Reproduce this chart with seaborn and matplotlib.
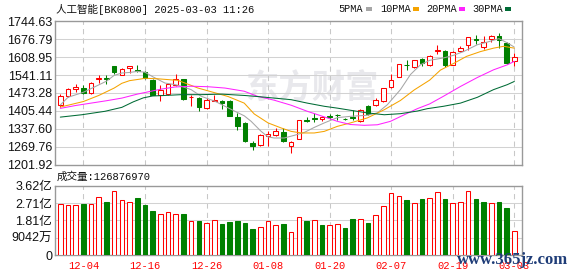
import matplotlib
matplotlib.use('Agg')
import matplotlib.pyplot as plt
from matplotlib.patches import Rectangle
import seaborn as sns
import pandas as pd
import numpy as np

sns.set_theme(style='white')
plt.rcParams['font.family'] = ['Liberation Sans', 'Noto Sans CJK SC', 'DejaVu Sans']

# ---------------- data ----------------
title_text = '人工智能[BK0800] 2025-03-03 11:26'
volume_title = '成交量:126876970'

dates = ['11-29', '12-02', '12-03', '12-04', '12-05', '12-06', '12-09', '12-10', '12-11', '12-12',
         '12-13', '12-16', '12-17', '12-18', '12-19', '12-20', '12-23', '12-24', '12-25', '12-26',
         '12-27', '12-30', '12-31', '01-02', '01-03', '01-06', '01-07', '01-08', '01-09', '01-10',
         '01-13', '01-14', '01-15', '01-16', '01-17', '01-20', '01-21', '01-22', '01-23', '01-24',
         '01-27', '02-05', '02-06', '02-07', '02-10', '02-11', '02-12', '02-13', '02-14', '02-17',
         '02-18', '02-19', '02-20', '02-21', '02-24', '02-25', '02-26', '02-27', '02-28', '03-03']

opens = [1426.5, 1460.6, 1489.6, 1492.1, 1472.0, 1525.0, 1530.0, 1574.1, 1542.6, 1568.0,
         1561.5, 1551.5, 1523.7, 1466.9, 1469.4, 1504.8, 1524.9, 1458.0, 1454.3, 1416.4,
         1444.2, 1441.7, 1441.7, 1382.4, 1359.7, 1284.0, 1275.1, 1309.0, 1313.0, 1325.6,
         1271.3, 1300.4, 1372.3, 1378.6, 1376.1, 1387.4, 1391.0, 1376.0, 1383.7, 1367.3,
         1424.0, 1427.8, 1444.2, 1497.2, 1535.0, 1580.5, 1570.4, 1601.9, 1580.5, 1633.5,
         1630.9, 1580.5, 1630.9, 1653.6, 1678.9, 1646.0, 1677.6, 1687.7, 1662.5, 1595.7]
highs = [1469.4, 1492.1, 1507.3, 1502.2, 1514.9, 1540.0, 1540.0, 1576.7, 1566.6, 1574.1,
         1580.5, 1555.2, 1526.2, 1504.8, 1511.1, 1545.0, 1527.5, 1466.9, 1456.8, 1454.3,
         1466.9, 1448.0, 1448.0, 1397.5, 1364.0, 1292.8, 1318.0, 1328.1, 1340.7, 1340.7,
         1292.8, 1372.3, 1382.4, 1397.5, 1384.9, 1395.0, 1393.0, 1380.0, 1408.9, 1411.0,
         1427.0, 1454.0, 1493.0, 1545.1, 1584.0, 1596.9, 1599.0, 1605.7, 1618.3, 1653.6,
         1634.7, 1631.0, 1649.8, 1685.2, 1691.5, 1687.7, 1691.5, 1700.3, 1666.3, 1624.6]
lows = [1418.9, 1458.1, 1477.0, 1469.4, 1469.4, 1511.0, 1508.5, 1546.4, 1541.4, 1548.9,
        1552.7, 1526.2, 1464.4, 1444.2, 1466.9, 1500.0, 1448.0, 1422.7, 1406.3, 1412.6,
        1441.7, 1413.8, 1384.9, 1334.4, 1286.0, 1256.2, 1273.0, 1271.3, 1311.7, 1287.8,
        1246.0, 1297.8, 1363.4, 1362.2, 1366.0, 1376.1, 1370.0, 1370.0, 1371.0, 1363.0,
        1391.0, 1424.0, 1441.0, 1494.0, 1533.0, 1562.0, 1568.0, 1574.0, 1574.2, 1620.8,
        1571.6, 1578.0, 1628.4, 1636.0, 1660.0, 1641.0, 1666.3, 1643.5, 1584.2, 1574.2]
closes = [1460.6, 1488.4, 1495.9, 1473.2, 1511.1, 1530.0, 1525.0, 1551.5, 1564.1, 1574.0,
          1555.2, 1530.0, 1466.9, 1485.8, 1507.3, 1527.5, 1451.8, 1460.0, 1420.2, 1448.0,
          1448.0, 1435.4, 1387.4, 1347.0, 1290.3, 1271.3, 1315.5, 1319.0, 1328.0, 1290.3,
          1286.5, 1369.8, 1368.5, 1374.8, 1381.1, 1383.7, 1389.0, 1373.6, 1377.4, 1408.9,
          1393.8, 1446.7, 1490.9, 1522.4, 1583.0, 1577.5, 1597.5, 1586.8, 1612.0, 1637.2,
          1580.5, 1628.4, 1642.3, 1683.9, 1675.1, 1665.0, 1687.7, 1675.1, 1586.8, 1608.3]

# volume in 亿 (1e8)
volumes = [2.66, 2.61, 2.61, 2.66, 2.66, 3.01, 2.76, 3.32, 2.87, 2.76,
           2.97, 2.61, 2.30, 2.14, 2.23, 2.14, 2.14, 1.76, 1.76, 1.67,
           1.81, 1.62, 1.72, 1.77, 1.69, 1.36, 1.44, 1.76, 1.55, 1.62,
           1.22, 1.96, 1.77, 1.81, 1.56, 1.55, 1.60, 1.39, 1.88, 1.86,
           1.67, 2.07, 2.54, 3.22, 3.06, 2.85, 2.70, 2.90, 2.96, 3.27,
           2.90, 2.70, 2.75, 3.32, 2.90, 2.75, 2.70, 2.75, 2.43, 1.2688]
volume_up = [1, 1, 1, 0, 1, 1, 0, 1, 1, 1,
             0, 0, 0, 1, 1, 1, 0, 1, 0, 1,
             1, 0, 0, 0, 0, 0, 1, 1, 1, 0,
             1, 1, 0, 1, 0, 1, 1, 0, 0, 1,
             0, 1, 1, 1, 1, 0, 1, 0, 1, 1,
             0, 1, 1, 1, 0, 0, 1, 0, 0, 1]

ma5_pos = [0, 1, 3, 5, 6, 7, 8, 9, 10, 11, 12, 13.6, 14.9, 15.7, 17, 18.3, 20.1, 21.4, 22.7, 23.9,
           24.8, 26.1, 27, 27.8, 29.1, 30.4, 31.7, 33, 34.3, 36, 37.7, 39.9, 41.2, 42.5, 44.2,
           45.5, 46.8, 48, 49.8, 51.1, 52.4, 54.2, 55.5, 57, 58.1, 59]
ma5_val = [1428, 1457, 1476, 1504, 1518, 1540, 1549, 1551, 1555, 1552, 1535, 1511, 1505, 1499, 1486,
           1461, 1442, 1423, 1404, 1387, 1366, 1328, 1307, 1303, 1303, 1313, 1324, 1343, 1360, 1380,
           1385, 1389, 1398, 1429, 1486, 1543, 1580, 1597, 1606, 1616, 1630, 1656, 1666, 1679, 1663, 1647]

ma10_pos = [0, 2, 3, 5, 7, 8, 9, 10.4, 11, 12.7, 14, 15.3, 16.2, 17.9, 20.1, 21.8, 23.9, 25.2, 27,
            28.7, 30, 31.3, 33, 34.3, 36, 37.7, 39.9, 42.1, 44.2, 46, 48, 49.4, 51.1, 52.8, 54.6,
            56.3, 57.6, 59]
ma10_val = [1420, 1434, 1441, 1464, 1492, 1510, 1520, 1526, 1529, 1527, 1524, 1521, 1511, 1492, 1474,
            1460, 1435, 1394, 1360, 1341, 1328, 1322, 1322, 1328, 1347, 1360, 1379, 1410, 1445, 1485,
            1522, 1560, 1585, 1612, 1630, 1643, 1650, 1643]

ma20_pos = [0, 2, 4, 6, 8, 10, 11.8, 13.1, 14.9, 17, 19.2, 21.4, 23.9, 25.6, 27.8, 30, 32.1, 34.3,
            36, 37.7, 39.5, 41.2, 42.9, 44.7, 46.4, 48, 49.8, 52, 54.2, 56.3, 58.1, 59]
ma20_val = [1415, 1426, 1435, 1444, 1454, 1469, 1480, 1488, 1496, 1499, 1497, 1492, 1480, 1461, 1446,
            1427, 1404, 1383, 1366, 1354, 1351, 1353, 1366, 1391, 1414, 1432, 1461, 1498, 1532, 1561,
            1580, 1593]

ma30_pos = [0, 2.8, 5.8, 8, 9.5, 10.8, 12, 13.6, 15.7, 18.3, 21, 23.9, 25.6, 27.8, 30, 32.1, 34.3,
            36, 37.7, 39.9, 42.1, 44.2, 46.4, 47.7, 49.8, 52, 54.2, 56.3, 58.1, 59]
ma30_val = [1382, 1391, 1404, 1419, 1440, 1455, 1462, 1464, 1467, 1467, 1469, 1464, 1460, 1454, 1448,
            1435, 1423, 1416, 1408, 1398, 1391, 1395, 1405, 1414, 1423, 1435, 1457, 1486, 1505, 1517]

ma_names = ['5PMA', '10PMA', '20PMA', '30PMA']
ma_colors = ['#a6a6a6', '#f5a300', '#ff22ff', '#006b35']

price_ticks = [1201.92, 1269.76, 1337.60, 1405.44, 1473.28, 1541.11, 1608.95, 1676.79, 1744.63]
vol_ticks = [0, 0.9042, 1.8084, 2.7126, 3.6168]
vol_tick_labels = ['0', '9042万', '1.81亿', '2.71亿', '3.62亿']
date_ticks = ['12-04', '12-16', '12-26', '01-08', '01-20', '02-07', '02-19', '03-03']

# ---------------- layout ----------------
W, H = 578, 276
fig = plt.figure(figsize=(W / 100, H / 100), dpi=100)
fig.patch.set_facecolor('white')


def fx(px):
    return px / W


def fy(py):
    return 1 - py / H


L, R = 55, 522
MT, MB = 21.3, 164.7
VT, VB = 185.7, 255.0
ax = fig.add_axes([fx(L), fy(MB), (R - L) / W, (MB - MT) / H])
axv = fig.add_axes([fx(L), fy(VB), (R - L) / W, (VB - VT) / H])

RED = '#ff0000'
GREEN = '#008000'
FRAME = '#999999'
GRID = '#d2d2d2'
LW = 0.75

n = len(dates)
xs = np.arange(n)
tick_pos = [dates.index(d) for d in date_ticks]
xlim = (-0.69, 60.0)

df = pd.DataFrame({'x': xs, 'open': opens, 'high': highs, 'low': lows, 'close': closes,
                   'vol': volumes, 'vup': volume_up})
df['up'] = df['close'] >= df['open']
df['col'] = np.where(df['up'], RED, GREEN)
df['face'] = np.where(df['up'], 'white', GREEN)
df['body_lo'] = df[['open', 'close']].min(axis=1)
df['body_h'] = (df['close'] - df['open']).abs().clip(lower=0.9)

for a in (ax, axv):
    a.set_facecolor('white')
    a.set_xlim(*xlim)
    for s in a.spines.values():
        s.set_color(FRAME)
        s.set_linewidth(1.0)
        s.set_visible(True)
    for p in tick_pos:
        a.axvline(p, color='#c8c8c8', lw=LW, ls=(0, (5, 4)), zorder=1)

# main price chart
ax.set_ylim(price_ticks[0], price_ticks[-1])
for v in price_ticks[1:-1]:
    ax.axhline(v, color=GRID, lw=LW, zorder=1)

ax.vlines(df['x'], df['low'], df['high'], colors=df['col'], lw=LW, zorder=3)
ax.bar(df['x'], df['body_h'], bottom=df['body_lo'], width=0.6, color=df['face'],
       edgecolor=df['col'], linewidth=LW, zorder=4)

frames = []
for name, p, v in zip(ma_names, [ma5_pos, ma10_pos, ma20_pos, ma30_pos],
                      [ma5_val, ma10_val, ma20_val, ma30_val]):
    frames.append(pd.DataFrame({'pos': p, 'val': v, 'ma': name}))
ma_df = pd.concat(frames, ignore_index=True)
sns.lineplot(data=ma_df, x='pos', y='val', hue='ma', hue_order=ma_names,
             palette=dict(zip(ma_names, ma_colors)), estimator=None, legend=False,
             lw=0.75, ax=ax, zorder=5)
ax.set_xlabel('')
ax.set_ylabel('')
ax.set_xticks([])
ax.set_yticks(price_ticks)
ax.set_yticklabels([f'{v:.2f}' for v in price_ticks])
ax.tick_params(axis='y', length=0, pad=2, labelsize=9, labelcolor='#111111')
ax.set_xlim(*xlim)

# watermark behind chart content
ax.text(0.55, 0.53, '东方财富', transform=ax.transAxes, fontsize=24, fontweight='bold',
        family=['Noto Sans CJK SC'], color='#e8e8ec', ha='center', va='center', zorder=0.5)

# volume chart
axv.set_ylim(0, vol_ticks[-1])
for v in vol_ticks[1:-1]:
    axv.axhline(v, color=GRID, lw=LW, zorder=1)
vcol = [RED if u else GREEN for u in volume_up]
vface = ['white' if u else GREEN for u in volume_up]
axv.bar(df['x'], df['vol'], width=0.6, color=vface, edgecolor=vcol, linewidth=LW, zorder=3)
axv.set_yticks(vol_ticks)
axv.set_yticklabels(vol_tick_labels)
axv.tick_params(axis='y', length=0, pad=2, labelsize=9, labelcolor='#111111')
axv.set_xticks(tick_pos)
axv.set_xticklabels(date_ticks, color=RED, fontsize=7.5, family=['Liberation Mono'])
axv.tick_params(axis='x', length=0, pad=4)

# titles
mono_cjk = ['Liberation Mono', 'Noto Sans CJK SC']
fig.text(fx(56), fy(9), title_text, fontsize=7.6, family=mono_cjk, color='#111111',
         ha='left', va='center')
fig.text(fx(57), fy(177), volume_title, fontsize=7.6, family=mono_cjk, color='#111111',
         ha='left', va='center')

# legend
leg_text_x = [338, 380, 426, 472]
leg_sw_x = [366, 413, 459, 505]
for name, col, tx, sx in zip(ma_names, ma_colors, leg_text_x, leg_sw_x):
    fig.text(fx(tx), fy(9), name, fontsize=7.4, family=['Liberation Mono'], color='#111111',
             ha='left', va='center')
    fig.add_artist(Rectangle((fx(sx), fy(10.5)), 6 / W, 3 / H, transform=fig.transFigure,
                             facecolor=col, edgecolor='none'))

# site watermark (overlaps the last date labels, as in the source image)
fig.text(fx(457), fy(260), 'www.365jz.com', fontsize=12, fontweight='bold',
         family=['Liberation Serif'], color='#1f3d78', ha='left', va='center', zorder=10)

fig.savefig('out.png', dpi=100, facecolor='white')
